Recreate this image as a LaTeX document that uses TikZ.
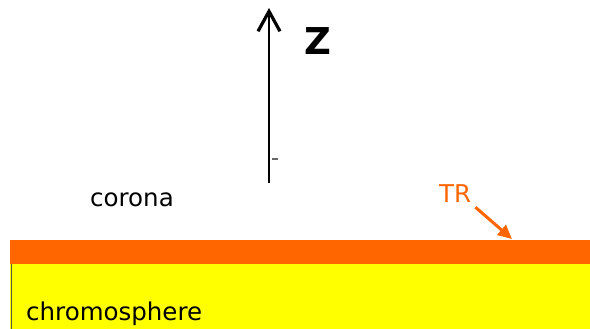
\documentclass[tikz,border=0pt]{standalone}
\usepackage{fontspec}
\setmainfont{DejaVu Sans}
\usetikzlibrary{arrows.meta}
\definecolor{trorange}{HTML}{FF6600}
\definecolor{chromoyellow}{HTML}{FFFF00}

\begin{document}
\begin{tikzpicture}[
  x=1pt,y=-1pt,
  lbl/.style={font=\fontsize{24.5}{28}\selectfont,inner sep=0pt,anchor=base west},
  axislbl/.style={font=\fontsize{37}{40}\selectfont\bfseries,inner sep=0pt,anchor=base west},
  axis/.style={line width=2pt,-{Straight Barb[length=20pt,width=22pt,line width=3.2pt]}},
  trarr/.style={draw=trorange,line width=3pt,-{Triangle[length=14pt,width=13pt]}}
]
\useasboundingbox (0,0) rectangle (590,329);
% ---------- layers ----------
\fill[chromoyellow] (10,264) rectangle (590,329);
\draw[black!75!yellow,line width=1pt] (11,264) -- (11,329);
\fill[trorange] (10,240) rectangle (590,264);
% ---------- height axis ----------
\coordinate (zbase) at (269,183);
\coordinate (ztip)  at (269,8);
\draw[axis] (zbase) -- (ztip);
\node[axislbl] (zlbl) at (304,55) {Z};
\draw[black!60,line width=2pt] (272,159) -- (278,159);
% ---------- labels ----------
\node[lbl] (corona) at (90,206) {corona};
\node[lbl] (chromo) at (26,320) {chromosphere};
\node[lbl,text=trorange] (tr) at (439,202) {TR};
\coordinate (trband) at (512,239);
\draw[trarr] ([xshift=4pt,yshift=-5pt]tr.south east) -- (trband);
\end{tikzpicture}
\end{document}
